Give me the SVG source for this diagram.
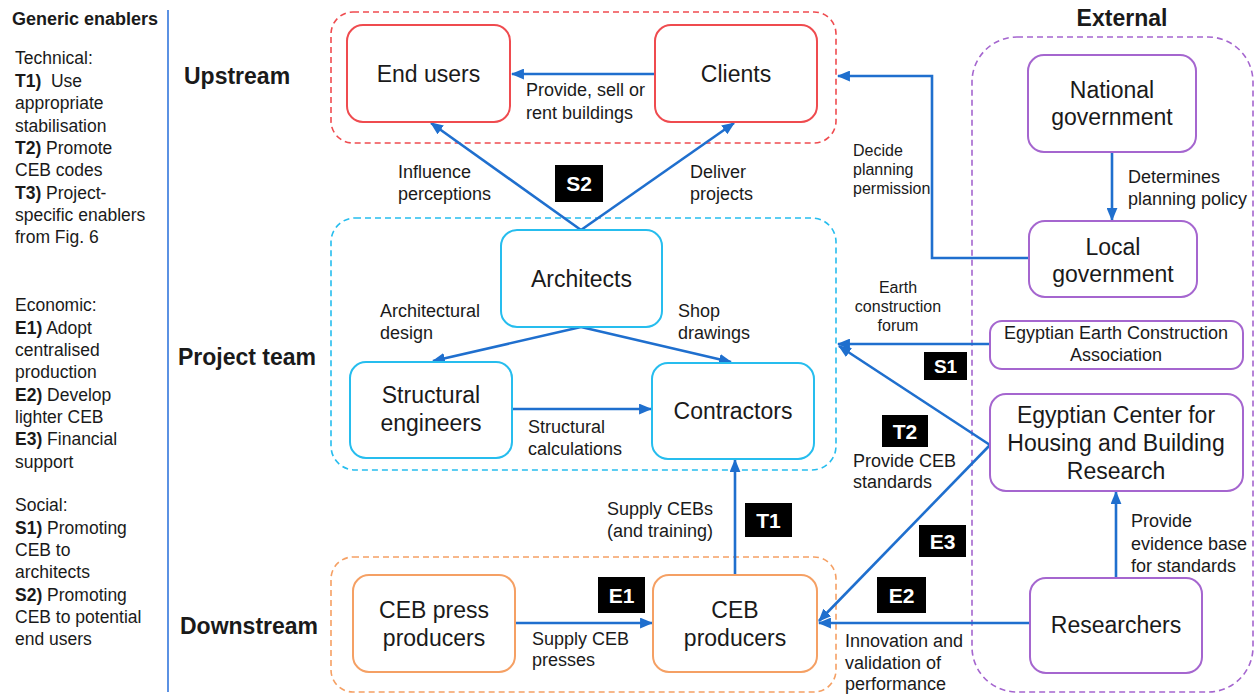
<svg xmlns="http://www.w3.org/2000/svg" width="1256" height="695" viewBox="0 0 1256 695">
  <style>
    text { font-family: "Liberation Sans", Arial, sans-serif; fill: #1a1a1a; }
    .side { font-size: 17.5px; }
    .head { font-size: 18px; font-weight: bold; }
    .tier { font-size: 23px; font-weight: bold; }
    .node { font-size: 23px; text-anchor: middle; }
    .nodes { font-size: 18px; text-anchor: middle; }
    .lbl { font-size: 18px; }
    .lbls { font-size: 16px; }
    .badge-box { fill: #000; }
    .badge-txt { font-size: 21px; font-weight: bold; fill: #fff; text-anchor: middle; }
    .up { fill: #fff; stroke: #ef4b4f; stroke-width: 2; }
    .team { fill: #fff; stroke: #26bdee; stroke-width: 2; }
    .down { fill: #fff; stroke: #f5a064; stroke-width: 2; }
    .ext { fill: #fff; stroke: #a566cf; stroke-width: 2; }
    .grp { fill: none; stroke-width: 1.6; stroke-dasharray: 6 4; }
    .conn { fill: none; stroke: #1f6fce; stroke-width: 2.6; marker-end: url(#arrow); }
  </style>
  <defs>
    <marker id="arrow" viewBox="0 0 12 10" refX="11" refY="5" markerWidth="13" markerHeight="11" markerUnits="userSpaceOnUse" orient="auto">
      <path d="M0,0 L12,5 L0,10 z" fill="#1f6fce"/>
    </marker>
  </defs>
  <rect width="1256" height="695" fill="#fff"/>

  <!-- legend column -->
  <g id="legend">
    <line x1="168" y1="10" x2="168" y2="692" stroke="#4a86e0" stroke-width="1.8"/>
    <text class="head" x="12" y="25">Generic enablers</text>
    <text class="side" x="15" y="64">Technical:</text>
    <text class="side" x="15" y="87"><tspan font-weight="bold">T1)</tspan>&#160; Use</text>
    <text class="side" x="15" y="109">appropriate</text>
    <text class="side" x="15" y="132">stabilisation</text>
    <text class="side" x="15" y="154"><tspan font-weight="bold">T2)</tspan> Promote</text>
    <text class="side" x="15" y="176">CEB codes</text>
    <text class="side" x="15" y="199"><tspan font-weight="bold">T3)</tspan> Project-</text>
    <text class="side" x="15" y="221">specific enablers</text>
    <text class="side" x="15" y="243">from Fig. 6</text>
    <text class="side" x="15" y="311">Economic:</text>
    <text class="side" x="15" y="334"><tspan font-weight="bold">E1)</tspan> Adopt</text>
    <text class="side" x="15" y="356">centralised</text>
    <text class="side" x="15" y="378">production</text>
    <text class="side" x="15" y="401"><tspan font-weight="bold">E2)</tspan> Develop</text>
    <text class="side" x="15" y="423">lighter CEB</text>
    <text class="side" x="15" y="445"><tspan font-weight="bold">E3)</tspan> Financial</text>
    <text class="side" x="15" y="468">support</text>
    <text class="side" x="15" y="511">Social:</text>
    <text class="side" x="15" y="534"><tspan font-weight="bold">S1)</tspan> Promoting</text>
    <text class="side" x="15" y="556">CEB to</text>
    <text class="side" x="15" y="578">architects</text>
    <text class="side" x="15" y="601"><tspan font-weight="bold">S2)</tspan> Promoting</text>
    <text class="side" x="15" y="623">CEB to potential</text>
    <text class="side" x="15" y="645">end users</text>
  </g>

  <!-- tier titles -->
  <g id="tiers">
    <text class="tier" x="184" y="84">Upstream</text>
    <text class="tier" x="178" y="365">Project team</text>
    <text class="tier" x="180" y="634">Downstream</text>
    <text class="tier" x="1122" y="26" text-anchor="middle">External</text>
  </g>

  <!-- tier containers -->
  <g id="containers">
    <rect id="upstream-group" class="grp" x="331" y="12" width="505" height="131" rx="22" stroke="#ef4b4f"/>
    <rect id="team-group" class="grp" x="331" y="218" width="505" height="252" rx="24" stroke="#26bdee"/>
    <rect id="downstream-group" class="grp" x="331" y="557" width="505" height="135" rx="22" stroke="#f5a064"/>
    <rect id="external-group" class="grp" x="972" y="37" width="281" height="655" rx="45" stroke="#a566cf"/>
  </g>

  <!-- connectors -->
  <g id="connectors">
    <line class="conn" x1="655" y1="74" x2="512" y2="74"/>
    <line class="conn" x1="581" y1="230" x2="431" y2="123"/>
    <line class="conn" x1="581" y1="230" x2="734" y2="123"/>
    <line class="conn" x1="581" y1="327" x2="433" y2="361"/>
    <line class="conn" x1="581" y1="327" x2="731" y2="362"/>
    <line class="conn" x1="512" y1="409" x2="651" y2="409"/>
    <line class="conn" x1="735" y1="575" x2="735" y2="460"/>
    <line class="conn" x1="515" y1="623" x2="652" y2="623"/>
    <line class="conn" x1="1112" y1="152" x2="1112" y2="220"/>
    <polyline class="conn" points="1029,258 932,258 932,76 838,76"/>
    <line class="conn" x1="990" y1="344" x2="838" y2="344"/>
    <line class="conn" x1="990" y1="445" x2="839" y2="346"/>
    <line class="conn" x1="990" y1="445" x2="819" y2="621"/>
    <line class="conn" x1="1030" y1="623" x2="819" y2="623"/>
    <line class="conn" x1="1116" y1="578" x2="1116" y2="492"/>
  </g>

  <!-- connector labels -->
  <g id="labels">
    <text class="lbl" x="526" y="96">Provide, sell or</text>
    <text class="lbl" x="526" y="119">rent buildings</text>
    <text class="lbl" x="398" y="178">Influence</text>
    <text class="lbl" x="398" y="200">perceptions</text>
    <text class="lbl" x="690" y="178">Deliver</text>
    <text class="lbl" x="690" y="200">projects</text>
    <text class="lbl" x="380" y="317">Architectural</text>
    <text class="lbl" x="380" y="339">design</text>
    <text class="lbl" x="678" y="317">Shop</text>
    <text class="lbl" x="678" y="339">drawings</text>
    <text class="lbl" x="528" y="433">Structural</text>
    <text class="lbl" x="528" y="455">calculations</text>
    <text class="lbl" x="713" y="515" text-anchor="end">Supply CEBs</text>
    <text class="lbl" x="713" y="537" text-anchor="end">(and training)</text>
    <text class="lbl" x="532" y="645">Supply CEB</text>
    <text class="lbl" x="532" y="666">presses</text>
    <text class="lbl" x="1128" y="183">Determines</text>
    <text class="lbl" x="1128" y="205">planning policy</text>
    <text class="lbls" x="853" y="156">Decide</text>
    <text class="lbls" x="853" y="175">planning</text>
    <text class="lbls" x="853" y="194">permission</text>
    <text class="lbls" x="898" y="293" text-anchor="middle">Earth</text>
    <text class="lbls" x="898" y="312" text-anchor="middle">construction</text>
    <text class="lbls" x="898" y="331" text-anchor="middle">forum</text>
    <text class="lbl" x="853" y="467">Provide CEB</text>
    <text class="lbl" x="853" y="488">standards</text>
    <text class="lbl" x="845" y="647">Innovation and</text>
    <text class="lbl" x="845" y="669">validation of</text>
    <text class="lbl" x="845" y="690">performance</text>
    <text class="lbl" x="1131" y="527">Provide</text>
    <text class="lbl" x="1131" y="550">evidence base</text>
    <text class="lbl" x="1131" y="572">for standards</text>
  </g>

  <!-- enabler badges -->
  <g id="badges">
    <g id="badge-S2"><rect class="badge-box" x="555" y="165" width="48" height="37"/><text class="badge-txt" x="579" y="191">S2</text></g>
    <g id="badge-S1"><rect class="badge-box" x="924" y="352" width="43" height="28"/><text class="badge-txt" x="945.5" y="373" style="font-size:19px">S1</text></g>
    <g id="badge-T2"><rect class="badge-box" x="882" y="415" width="46" height="32"/><text class="badge-txt" x="905" y="439">T2</text></g>
    <g id="badge-T1"><rect class="badge-box" x="745" y="503" width="47" height="34"/><text class="badge-txt" x="768.5" y="528">T1</text></g>
    <g id="badge-E3"><rect class="badge-box" x="919" y="525" width="47" height="32"/><text class="badge-txt" x="942.5" y="549">E3</text></g>
    <g id="badge-E1"><rect class="badge-box" x="598" y="577" width="47" height="36"/><text class="badge-txt" x="621.5" y="603">E1</text></g>
    <g id="badge-E2"><rect class="badge-box" x="877" y="577" width="49" height="36"/><text class="badge-txt" x="901.5" y="603">E2</text></g>
  </g>

  <!-- upstream actors -->
  <g id="end-users">
    <rect class="up" x="347" y="25" width="163" height="97" rx="16"/>
    <text class="node" x="428.5" y="82">End users</text>
  </g>
  <g id="clients">
    <rect class="up" x="655" y="25" width="162" height="97" rx="16"/>
    <text class="node" x="736" y="82">Clients</text>
  </g>

  <!-- project team -->
  <g id="architects">
    <rect class="team" x="501" y="230" width="161" height="97" rx="16"/>
    <text class="node" x="581.5" y="287">Architects</text>
  </g>
  <g id="structural-engineers">
    <rect class="team" x="350" y="362" width="162" height="96" rx="16"/>
    <text class="node" x="431" y="403">Structural</text>
    <text class="node" x="431" y="431">engineers</text>
  </g>
  <g id="contractors">
    <rect class="team" x="652" y="363" width="162" height="96" rx="16"/>
    <text class="node" x="733" y="419">Contractors</text>
  </g>

  <!-- downstream -->
  <g id="ceb-press-producers">
    <rect class="down" x="353" y="575" width="162" height="97" rx="16"/>
    <text class="node" x="434" y="618">CEB press</text>
    <text class="node" x="434" y="646">producers</text>
  </g>
  <g id="ceb-producers">
    <rect class="down" x="653" y="575" width="164" height="97" rx="16"/>
    <text class="node" x="735" y="618">CEB</text>
    <text class="node" x="735" y="646">producers</text>
  </g>

  <!-- external actors -->
  <g id="national-government">
    <rect class="ext" x="1028" y="55" width="168" height="97" rx="16"/>
    <text class="node" x="1112" y="98">National</text>
    <text class="node" x="1112" y="125">government</text>
  </g>
  <g id="local-government">
    <rect class="ext" x="1029" y="221" width="168" height="76" rx="16"/>
    <text class="node" x="1113" y="255">Local</text>
    <text class="node" x="1113" y="282">government</text>
  </g>
  <g id="eeca">
    <rect class="ext" x="990" y="321" width="253" height="48" rx="12"/>
    <text class="nodes" x="1116" y="339">Egyptian Earth Construction</text>
    <text class="nodes" x="1116" y="361">Association</text>
  </g>
  <g id="echbr">
    <rect class="ext" x="990" y="394" width="253" height="97" rx="16"/>
    <text class="node" x="1116" y="423">Egyptian Center for</text>
    <text class="node" x="1116" y="451">Housing and Building</text>
    <text class="node" x="1116" y="479">Research</text>
  </g>
  <g id="researchers">
    <rect class="ext" x="1030" y="578" width="172" height="95" rx="16"/>
    <text class="node" x="1116" y="633">Researchers</text>
  </g>
</svg>
